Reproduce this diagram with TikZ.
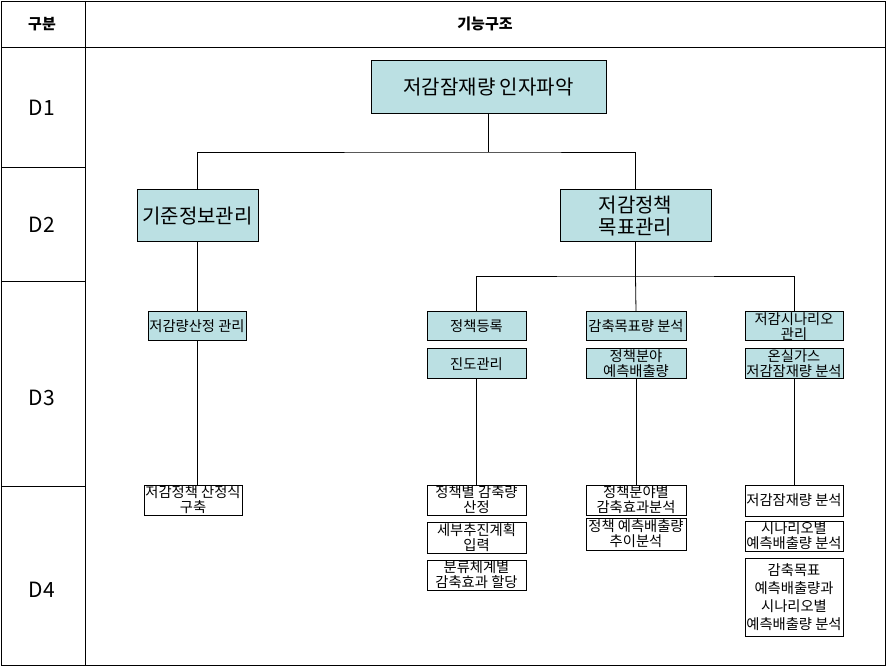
\documentclass[tikz,border=0pt]{standalone}
\usepackage{fontspec}
\setmainfont{Noto Sans CJK KR}
\definecolor{boxfill}{HTML}{BBE0E3}
\begin{document}
\begin{tikzpicture}[x=1pt,y=-1pt,
  grid/.style={line width=0.9pt,draw=black},
  conn/.style={line width=0.8pt,draw=black},
  bigbox/.style={draw=black,line width=1pt,fill=boxfill,inner sep=0pt,align=center,font=\fontsize{20}{21.5}\selectfont},
  midbox/.style={draw=black,line width=1pt,fill=boxfill,inner sep=0pt,align=center,font=\fontsize{14.3}{14.8}\selectfont},
  leafbox/.style={draw=black,line width=1pt,fill=white,inner sep=0pt,align=center,font=\fontsize{14.3}{14.8}\selectfont},
  hdr/.style={inner sep=0pt,font=\fontsize{15}{17}\selectfont\bfseries},
  lvl/.style={inner sep=0pt,font=\fontsize{21}{23}\selectfont}]
\useasboundingbox (0,0) rectangle (887,668);
% table grid
\draw[grid] (1,1) rectangle (885,665);
\draw[grid] (85,1) -- (85,665);
\draw[grid] (1,47) -- (885,47);
\draw[grid] (1,167) -- (85,167);
\draw[grid] (1,281) -- (85,281);
\draw[grid] (1,486) -- (85,486);
% header and level labels
\node[hdr] (h1) at (42,24) {구분};
\node[hdr] (h2) at (485,24) {기능구조};
\node[lvl] (d1) at (42,108) {D1};
\node[lvl] (d2) at (42,225) {D2};
\node[lvl] (d3) at (42,398) {D3};
\node[lvl] (d4) at (42,590) {D4};
% D1
\node[bigbox,minimum width=235pt,minimum height=53pt] (top) at (488.5,87.5) {저감잠재량 인자파악};
% D2
\node[bigbox,minimum width=121pt,minimum height=52pt] (kijun) at (197.5,216) {기준정보관리};
\node[bigbox,minimum width=151pt,minimum height=52pt] (policy) at (635.5,216) {저감정책\\목표관리};
% D3
\node[midbox,minimum width=98pt,minimum height=29pt] (calc) at (197,326.5) {저감량산정 관리};
\node[midbox,minimum width=99pt,minimum height=29pt] (reg) at (476.5,326.5) {정책등록};
\node[midbox,minimum width=99pt,minimum height=30pt] (prog) at (476.5,364) {진도관리};
\node[midbox,minimum width=100pt,minimum height=29pt] (goal) at (636,326.5) {감축목표량 분석};
\node[midbox,minimum width=100pt,minimum height=30pt] (field) at (636,364) {정책분야\\예측배출량};
\node[midbox,minimum width=98pt,minimum height=29pt] (scen) at (794,326.5) {저감시나리오\\관리};
\node[midbox,minimum width=98pt,minimum height=30pt] (ghg) at (794,364) {온실가스\\저감잠재량 분석};
% D4
\node[leafbox,minimum width=98pt,minimum height=30pt] (formula) at (193,500) {저감정책 산정식\\구축};
\node[leafbox,minimum width=99pt,minimum height=30pt] (p1) at (476.5,500) {정책별 감축량\\산정};
\node[leafbox,minimum width=99pt,minimum height=31pt] (p2) at (476.5,537.5) {세부추진계획\\입력};
\node[leafbox,minimum width=99pt,minimum height=30pt] (p3) at (476.5,575) {분류체계별\\감축효과 할당};
\node[leafbox,minimum width=100pt,minimum height=30pt] (f1) at (636,500) {정책분야별\\감축효과분석};
\node[leafbox,minimum width=100pt,minimum height=32pt] (f2) at (636,534) {정책 예측배출량\\추이분석};
\node[leafbox,minimum width=98pt,minimum height=31pt] (s1) at (794,500.5) {저감잠재량 분석};
\node[leafbox,minimum width=98pt,minimum height=30pt] (s2) at (794,536) {시나리오별\\예측배출량 분석};
\node[leafbox,minimum width=98pt,minimum height=78pt,font=\fontsize{14.3}{18}\selectfont] (s3) at (794,597) {감축목표\\예측배출량과\\시나리오별\\예측배출량 분석};
% connectors
\coordinate (bus1) at (488.5,152);
\coordinate (bus2) at (635.5,276);
\draw[conn] (top.south) -- (bus1);
\draw[conn] (kijun.north) |- (bus1) -| (policy.north);
\draw[conn] (kijun.south) -- (kijun.south |- calc.north);
\draw[conn] (calc.south) -- (calc.south |- formula.north);
\draw[conn] (policy.south) -- (bus2);
\draw[conn] (reg.north) |- (bus2) -| (scen.north);
\draw[conn] (bus2) -- (goal.north);
\draw[conn] (prog.south) -- (p1.north);
\draw[conn] (field.south) -- (f1.north);
\draw[conn] (ghg.south) -- (s1.north);
\end{tikzpicture}
\end{document}
